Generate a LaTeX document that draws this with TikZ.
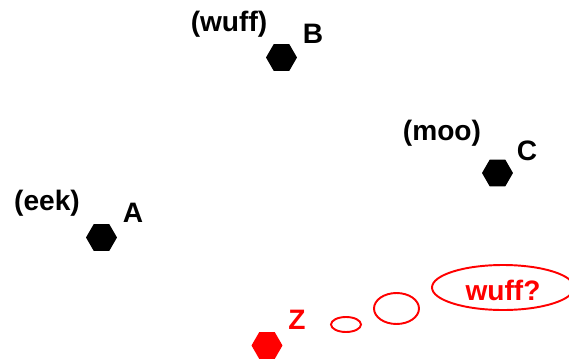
\documentclass[tikz,border=0pt]{standalone}
\usepackage{fontspec}
\setmainfont{Liberation Sans}
\usetikzlibrary{shapes.geometric}

\tikzset{
    hexdot/.style={regular polygon, regular polygon sides=6, fill=black, inner sep=0pt, minimum size=0.62cm},
    tag/.style={font=\fontsize{16}{18}\selectfont\bfseries, inner sep=0pt},
    bubble/.style={ellipse, draw=red, line width=1.1pt, inner sep=0pt}
}

\begin{document}
\begin{tikzpicture}[x=0.02cm, y=-0.02cm]
    \useasboundingbox (0,0) rectangle (569,359);
    \clip (0,0) rectangle (569,359);

    % the three animals
    \node[hexdot] (b) at (281.5,57.5) {};
    \node[hexdot] (a) at (101.5,237.5) {};
    \node[hexdot] (c) at (497.5,173) {};
    \node[tag] (bname) at (313,34) {B};
    \node[tag] (aname) at (133,213) {A};
    \node[tag] (cname) at (527,151) {C};
    \node[tag] (bsound) at (229,24) {(wuff)};
    \node[tag] (asound) at (47,203) {(eek)};
    \node[tag] (csound) at (442,133) {(moo)};

    % Z is thinking
    \node[hexdot, fill=red] (z) at (267,345.5) {};
    \node[tag, text=red] (zname) at (297,320) {Z};
    \node[bubble, minimum width=0.6cm, minimum height=0.3cm] (bub1) at (346,324.5) {};
    \node[bubble, minimum width=0.9cm, minimum height=0.62cm] (bub2) at (396.5,308.5) {};
    \node[bubble, minimum width=2.84cm, minimum height=0.9cm] (bub3) at (503,287.5) {};
    \node[tag, text=red] (zthink) at (503,290) {wuff?};
\end{tikzpicture}
\end{document}
